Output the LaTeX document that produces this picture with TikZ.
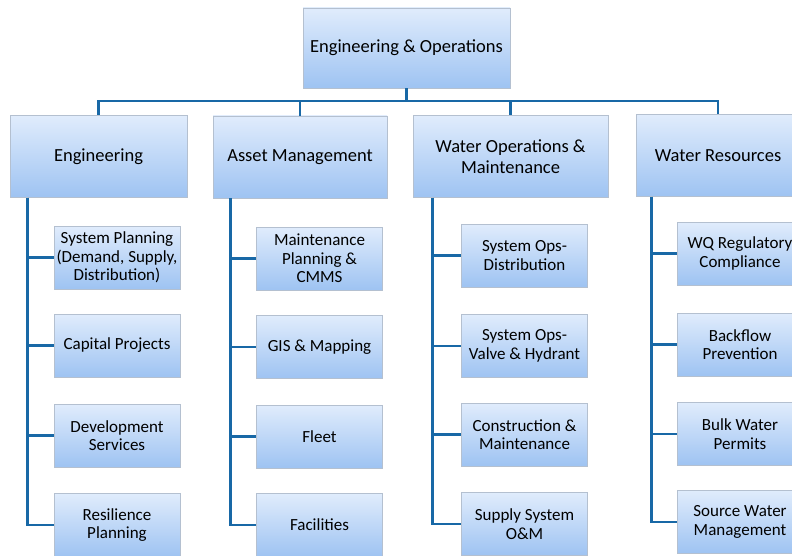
\documentclass[tikz,border=0pt]{standalone}
\usepackage{fontspec}
\setmainfont{Carlito}
\usepackage{xcolor}
\usetikzlibrary{positioning, calc}
\definecolor{boxtop}{RGB}{224, 236, 252}
\definecolor{boxbottom}{RGB}{158, 195, 242}
\definecolor{boxline}{RGB}{180, 192, 208}
\definecolor{linkblue}{RGB}{24, 104, 166}

\begin{document}
\begin{tikzpicture}[
    x=1pt, y=-1pt,
    unit/.style={draw=boxline, line width=0.8pt, top color=boxtop, bottom color=boxbottom, inner sep=0pt, align=center, font=\fontsize{18.5}{20.5}\selectfont},
    head/.style={unit, minimum height=82pt},
    team/.style={unit, minimum width=126pt, minimum height=63pt, font=\fontsize{17}{18.5}\selectfont},
    link/.style={linkblue, line width=2.8pt}
]
    \useasboundingbox (0,0) rectangle (792,556);
    \fill[white] (0,0) rectangle (792,556);
    \clip (0,0) rectangle (792,556);

    % Nodes - top
    \node[unit, minimum width=207pt, minimum height=80pt] (top) at (406.5,48) {Engineering \& Operations};
    \coordinate (bus) at (406.5,101);

    % Nodes - divisions
    \node[head, minimum width=177pt] (eng) at (98.5,156.5) {Engineering};
    \node[head, minimum width=174pt] (asset) at (300,157) {Asset Management};
    \node[head, minimum width=195pt] (waterops) at (510.5,156.5) {Water Operations \&\\Maintenance};
    \node[head, minimum width=164pt] (waterres) at (718,155.5) {Water Resources};

    % Nodes - engineering teams
    \node[team] (eng1) at (117,257.5) {System Planning\\(Demand, Supply,\\Distribution)};
    \node[team] (eng2) at (117,345.5) {Capital Projects};
    \node[team] (eng3) at (117,435.5) {Development\\Services};
    \node[team] (eng4) at (117,525) {Resilience\\Planning};

    % Nodes - asset management teams
    \node[team] (asset1) at (319.5,258.5) {Maintenance\\Planning \&\\CMMS};
    \node[team] (asset2) at (319.5,347) {GIS \& Mapping};
    \node[team] (asset3) at (319.5,436.5) {Fleet};
    \node[team] (asset4) at (319.5,525) {Facilities};

    % Nodes - water operations teams
    \node[team] (ops1) at (524.5,255.5) {System Ops-\\Distribution};
    \node[team] (ops2) at (524.5,346) {System Ops-\\Valve \& Hydrant};
    \node[team] (ops3) at (524.5,434.5) {Construction \&\\Maintenance};
    \node[team] (ops4) at (524.5,524) {Supply System\\O\&M};

    % Nodes - water resources teams
    \node[team] (res1) at (740,253.5) {WQ Regulatory\\Compliance};
    \node[team] (res2) at (740,344.5) {Backflow\\Prevention};
    \node[team] (res3) at (740,434) {Bulk Water\\Permits};
    \node[team] (res4) at (740,522) {Source Water\\Management};

    % Links - top to divisions
    \draw[link] (top) -- (bus);
    \draw[link] (bus) -| (eng);
    \draw[link] (bus) -| (asset);
    \draw[link] (bus) -| (waterops);
    \draw[link] (bus) -| (waterres);

    % Links - divisions to teams
    \foreach \d/\t/\off in {eng/eng/18, asset/asset/18, waterops/ops/20, waterres/res/16} {
        \foreach \i in {1,...,4}
            \draw[link] ([xshift=\off pt]\d.south west) |- (\t\i.west);
    }
\end{tikzpicture}
\end{document}
